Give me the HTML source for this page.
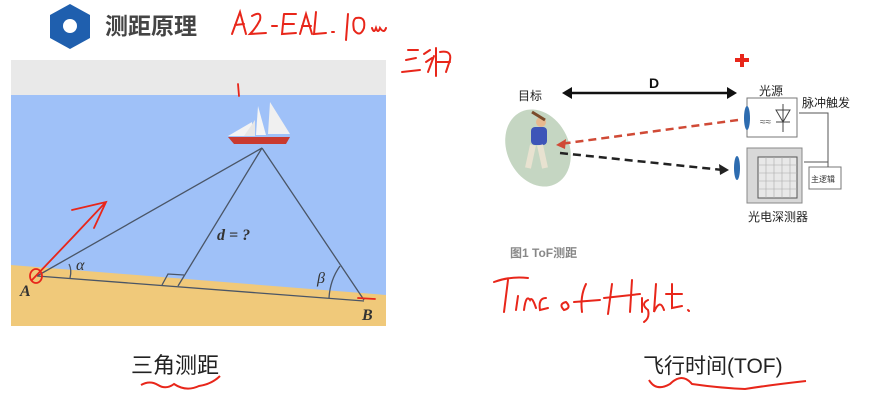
<!DOCTYPE html>
<html><head><meta charset="utf-8"><style>
html,body{margin:0;padding:0;background:#fff;}
svg{display:block;}
text{font-family:"Liberation Sans","Noto Sans CJK SC",sans-serif;}
text.serif{font-family:"Liberation Serif",serif;font-style:italic;}
</style></head><body>
<svg width="875" height="401" viewBox="0 0 875 401">
<g>
<polygon points="70,4 90,15 90,38 70,49 50,38 50,15" fill="#1f5fae"/>
<circle cx="70" cy="26" r="7" fill="#fff"/>
<text x="105" y="34" font-size="23" font-weight="bold" fill="#444">测距原理</text>
</g>
<g fill="none" stroke="#e8261a" stroke-width="2" stroke-linecap="round">
<path d="M232,34 L240,12 L246,34 M235,25 L244,24"/>
<path d="M252,16 Q262,10 260,20 Q256,28 250,34 L266,33"/>
<path d="M272,26 L277,26"/>
<path d="M284,14 L282,34 L296,33 M284,24 L294,24 M284,14 L296,14"/>
<path d="M300,34 L306,14 L312,34 M302,26 L311,26 M316,12 L314,34 L326,33"/>
<path d="M332,32 L334,32"/>
<path d="M348,14 L346,40 M356,18 Q366,16 364,28 Q360,38 354,30 Q352,20 356,18"/>
<path d="M372,28 Q374,34 376,28 Q378,34 380,28 Q384,34 386,28"/>
<path d="M408,50 L418,50 M406,60 L416,58 M402,72 L420,70 M424,54 L430,50 M426,62 L432,58 M428,72 L434,56 M436,48 L436,76 M440,52 Q452,50 450,60 L446,72 M436,62 L450,62"/>
</g>
<g>
<rect x="11" y="60" width="375" height="266" fill="#e9e9e9"/>
<rect x="11" y="95" width="375" height="231" fill="#9fc1f8"/>
<polygon points="11,265 386,295 386,326 11,326" fill="#f0c97a"/>
<g>
<polygon points="228,137 290,137 286,144 234,144" fill="#c93a2f"/>
<polygon points="228,136 252,122 252,136" fill="#f3f3f3"/>
<polygon points="244,136 255,120 255,136" fill="#e6e6e6"/>
<polygon points="256,135 258,106 266,135" fill="#f5f5f5"/>
<polygon points="268,134 270,102 290,134" fill="#f0f0f0"/>
</g>
<g stroke="#4a5566" stroke-width="1.3" fill="none">
<line x1="37" y1="276" x2="262" y2="148"/>
<line x1="262" y1="148" x2="364" y2="300"/>
<line x1="262" y1="148" x2="178" y2="286"/>
<line x1="37" y1="276" x2="364" y2="301"/>
<path d="M69,264 Q72,270 70,278"/>
<path d="M340,266 Q330,280 329,298"/>
<path d="M162,285 L168,274 L184,275"/>
</g>
<text class="serif" x="76" y="270" font-size="16" fill="#333">α</text>
<text class="serif" x="317" y="283" font-size="16" fill="#333">β</text>
<text class="serif" x="217" y="240" font-size="16" font-weight="bold" fill="#333">d = ?</text>
<text class="serif" x="20" y="296" font-size="16" font-weight="bold" fill="#333">A</text>
<text class="serif" x="362" y="320" font-size="16" font-weight="bold" fill="#333">B</text>
<g fill="none" stroke="#e8261a" stroke-width="1.8" stroke-linecap="round">
<path d="M32,280 L72,238 L104,204 M72,210 L106,202 L94,228"/>
<ellipse cx="36" cy="276" rx="6" ry="7"/>
<path d="M238,84 L239,96"/>
<path d="M358,298 L375,299"/>
</g>
</g>
<g>
<text x="518" y="100" font-size="12" fill="#222">目标</text>
<ellipse cx="538" cy="148" rx="31" ry="40" transform="rotate(-25 538 148)" fill="#c5d6c2"/>
<g>
<circle cx="541" cy="122" r="5" fill="#e7b98f"/>
<rect x="531" y="127" width="16" height="18" rx="4" fill="#3d55b8"/>
<path d="M533,145 L528,168 M540,145 L545,168" stroke="#e8e2d0" stroke-width="6"/>
<line x1="545" y1="120" x2="532" y2="112" stroke="#7a4b2a" stroke-width="3"/>
</g>
<g stroke="#111" stroke-width="2.5" fill="#111">
<line x1="566" y1="93" x2="733" y2="93"/>
<polygon points="562,93 572,87 572,99" stroke="none"/>
<polygon points="737,93 727,87 727,99" stroke="none"/>
</g>
<text x="649" y="88" font-size="14" font-weight="bold" fill="#111">D</text>
<path d="M735,58 h5 v-4 h4 v4 h5 v4 h-5 v5 h-4 v-5 h-5 z" fill="#e8261a"/>
<line x1="738" y1="120" x2="560" y2="144" stroke="#d04a36" stroke-width="2.5" stroke-dasharray="8,5"/>
<polygon points="556,145 566,139 565,149" fill="#d04a36"/>
<line x1="560" y1="153" x2="723" y2="170" stroke="#222" stroke-width="2.5" stroke-dasharray="8,5"/>
<polygon points="729,170 719,164 720,175" fill="#222"/>
<text x="759" y="95" font-size="12" fill="#222">光源</text>
<rect x="747" y="98" width="50" height="39" fill="#fff" stroke="#777"/>
<ellipse cx="747" cy="118" rx="3" ry="12" fill="#2d6cb0"/>
<text x="760" y="125" font-size="10" fill="#555">≈≈</text>
<path d="M776,110 L790,110 L783,122 Z M776,122 L790,122 M783,104 L783,132" stroke="#444" fill="none"/>
<text x="802" y="107" font-size="12" fill="#222">脉冲触发</text>
<rect x="747" y="148" width="55" height="55" fill="#d8d8d8" stroke="#888"/>
<rect x="758" y="157" width="39" height="41" fill="#e8e8e8" stroke="#555"/>
<path d="M758,165h39M758,173h39M758,181h39M758,189h39M766,157v41M774,157v41M782,157v41M790,157v41" stroke="#aaa" stroke-width="0.6"/>
<ellipse cx="737" cy="168" rx="3" ry="12" fill="#2d6cb0"/>
<rect x="809" y="167" width="32" height="22" fill="#fff" stroke="#777"/>
<text x="811" y="182" font-size="8" fill="#333">主逻辑</text>
<path d="M828,167 V113 H799 M828,162 H804" stroke="#555" fill="none"/>
<text x="748" y="221" font-size="12" fill="#222">光电深测器</text>
<text x="510" y="257" font-size="12" font-weight="bold" fill="#888">图1 ToF测距</text>
</g>
<g fill="none" stroke="#e8261a" stroke-width="2" stroke-linecap="round">
<path d="M494,282 Q510,276 528,278 M508,280 L504,312 M518,296 L516,310 M524,310 Q526,294 530,300 Q532,296 536,308 M546,298 Q538,298 540,310 L548,308"/>
<path d="M566,302 Q558,304 564,310 Q572,308 566,302 M574,302 L600,300 M586,284 Q580,296 582,312"/>
<path d="M612,284 L608,314 M604,298 L640,294 M632,280 L630,312 M642,298 L642,312 M648,300 Q640,304 648,310 Q650,318 644,322 M656,284 L654,312 Q660,298 664,310 M672,284 L672,308 L682,306 M666,294 L682,294 M688,310 L689,311"/>
</g>
<text x="131" y="373" font-size="22" fill="#222">三角测距</text>
<path d="M141,385 Q150,380 158,385 Q166,390 174,384 Q186,392 199,386 Q212,384 220,376" stroke="#e8261a" stroke-width="2" fill="none"/>
<text x="643" y="373" font-size="21" fill="#222">飞行时间(TOF)</text>
<path d="M649,380 Q656,392 670,384 Q682,372 692,384 Q720,388 745,389 Q770,385 806,381" stroke="#e8261a" stroke-width="2" fill="none"/>
</svg>
</body></html>
